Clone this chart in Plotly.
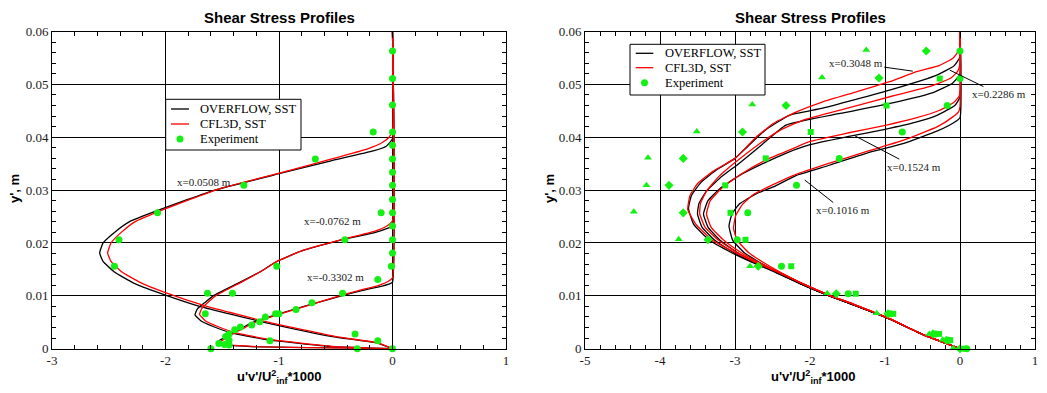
import plotly.graph_objects as go

# ---------------- Left panel data (u'v'/U^2*1000 vs y', m) ----------------
L_ovf_m0p3302_x = [0, -1.25, -1.52, -1.55, -1.49, -1.41, -1.32, -1.23, -1.00, -0.78, -0.45, -0.27, -0.12, -0.03, 0, 0]
L_ovf_m0p3302_y = [0, 0.0004, 0.0008, 0.0012, 0.0020, 0.0030, 0.0040, 0.0050, 0.0066, 0.0080, 0.0100, 0.0110, 0.0117, 0.0122, 0.0126, 0.06]
L_cfl_m0p3302_x = [0, -1.2, -1.48, -1.52, -1.47, -1.39, -1.30, -1.21, -0.99, -0.77, -0.44, -0.26, -0.12, -0.04, 0, 0]
L_cfl_m0p3302_y = [0, 0.0004, 0.0008, 0.0012, 0.0020, 0.0030, 0.0040, 0.0050, 0.0066, 0.0080, 0.0102, 0.0112, 0.0120, 0.0127, 0.0134, 0.06]

L_ovf_m0p0762_x = [0, -0.53, -1.11, -1.42, -1.58, -1.69, -1.74, -1.72, -1.65, -1.58, -1.35, -1.17, -1.02, -0.80, -0.45, -0.15, -0.04, 0, 0]
L_ovf_m0p0762_y = [0, 0.0004, 0.0017, 0.0030, 0.0042, 0.0053, 0.0064, 0.0075, 0.0088, 0.0100, 0.0125, 0.0145, 0.0165, 0.0185, 0.0206, 0.0220, 0.0228, 0.0232, 0.06]
L_cfl_m0p0762_x = [0, -0.5, -1.07, -1.38, -1.54, -1.65, -1.70, -1.68, -1.62, -1.55, -1.33, -1.16, -1.01, -0.79, -0.44, -0.16, -0.05, 0, 0]
L_cfl_m0p0762_y = [0, 0.0004, 0.0017, 0.0030, 0.0042, 0.0053, 0.0065, 0.0076, 0.0089, 0.0101, 0.0126, 0.0146, 0.0166, 0.0186, 0.0207, 0.0222, 0.0232, 0.0242, 0.06]

L_ovf_0p0508_x = [0, -0.14, -0.53, -1.11, -1.70, -2.05, -2.28, -2.45, -2.55, -2.58, -2.55, -2.45, -2.32, -2.05, -1.81, -1.55, -1.0, -0.55, -0.17, -0.055, 0, 0]
L_ovf_0p0508_y = [0, 0.0011, 0.0023, 0.0049, 0.0080, 0.0105, 0.0124, 0.0145, 0.0165, 0.0181, 0.0200, 0.0220, 0.0240, 0.0263, 0.0282, 0.0301, 0.0331, 0.0355, 0.0374, 0.0383, 0.0397, 0.06]
L_cfl_0p0508_x = [0, -0.13, -0.5, -1.07, -1.65, -2.0, -2.22, -2.39, -2.48, -2.51, -2.48, -2.39, -2.27, -2.02, -1.79, -1.53, -0.98, -0.55, -0.22, -0.09, -0.03, 0, 0]
L_cfl_0p0508_y = [0, 0.0011, 0.0023, 0.0049, 0.0081, 0.0106, 0.0125, 0.0146, 0.0165, 0.0181, 0.0200, 0.0220, 0.0240, 0.0263, 0.0282, 0.0302, 0.0333, 0.0358, 0.0378, 0.0390, 0.0400, 0.0413, 0.06]

L_exp_x = [0, 0, 0, -0.17, 0, 0, -0.68, 0, 0, -1.31, 0, 0, -2.07, -0.10, 0, 0, -2.41, -0.42, 0, 0,
           -2.45, -1.02, -0.01, -0.13, -1.63, -1.41, -0.44, -0.71, -0.85, -1.65, -1.03, -1.00, -1.12,
           -1.17, -1.24, -1.34, -1.39, -0.33, -1.44, -1.47, -1.08, -0.13, -1.44, -1.53, -1.48, -1.44,
           -1.60, -0.31, 0]
L_exp_y = [0.0563, 0.0511, 0.0461, 0.0410, 0.0410, 0.0385, 0.0359, 0.0359, 0.0334, 0.0309, 0.0309, 0.0282,
           0.0257, 0.0257, 0.0257, 0.0232, 0.0206, 0.0206, 0.0206, 0.0181, 0.0156, 0.0156, 0.0156, 0.0131,
           0.0105, 0.0105, 0.0105, 0.0087, 0.0074, 0.0066, 0.0066, 0.0066, 0.0060, 0.0051, 0.0045, 0.0041,
           0.0036, 0.0028, 0.0028, 0.0023, 0.0015, 0.0015, 0.0016, 0.0010, 0.0008, 0.0007, 0.0, 0.0, 0.0]

# ---------------- Right panel data ----------------
R_cfl_0p1016_x = [0, -0.5, -0.94, -1.4, -1.74, -2.1, -2.4, -2.62, -2.82, -2.97, -3.02, -2.99, -2.9, -2.75, -2.5, -2.2, -1.74, -1.2, -0.76, -0.3, -0.1, -0.02, 0, 0]
R_cfl_0p1016_y = [0, 0.0027, 0.0057, 0.0083, 0.0101, 0.0123, 0.0145, 0.0163, 0.0182, 0.0205, 0.0228, 0.0252, 0.0273, 0.0292, 0.0310, 0.0329, 0.0351, 0.0375, 0.0394, 0.0420, 0.0438, 0.0448, 0.0458, 0.06]
R_ovf_0p1016_x = [0, -0.5, -0.95, -1.42, -1.76, -2.13, -2.44, -2.67, -2.88, -3.03, -3.08, -3.04, -2.94, -2.72, -2.49, -2.18, -1.74, -1.2, -0.76, -0.3, -0.08, 0, 0]
R_ovf_0p1016_y = [0, 0.0027, 0.0057, 0.0083, 0.0101, 0.0123, 0.0145, 0.0163, 0.0182, 0.0205, 0.0232, 0.0255, 0.0274, 0.0293, 0.0306, 0.0328, 0.0347, 0.0372, 0.0388, 0.0412, 0.0428, 0.0437, 0.06]

R_cfl_0p1524_x = [0, -0.5, -0.94, -1.4, -1.74, -2.1, -2.42, -2.68, -2.92, -3.15, -3.32, -3.38, -3.33, -3.16, -2.9, -2.57, -2.27, -2.0, -1.5, -0.98, -0.6, -0.27, -0.08, -0.01, 0, 0]
R_cfl_0p1524_y = [0, 0.0027, 0.0057, 0.0083, 0.0101, 0.0123, 0.0145, 0.0163, 0.0182, 0.0205, 0.0230, 0.0255, 0.0280, 0.0306, 0.0332, 0.0358, 0.0376, 0.0392, 0.0408, 0.0423, 0.0436, 0.0451, 0.0466, 0.0478, 0.0490, 0.06]
R_ovf_0p1524_x = [0, -0.5, -0.95, -1.42, -1.76, -2.13, -2.45, -2.72, -2.97, -3.2, -3.36, -3.42, -3.36, -3.2, -2.95, -2.6, -2.3, -2.0, -1.5, -1.0, -0.6, -0.3, -0.07, 0, 0]
R_ovf_0p1524_y = [0, 0.0027, 0.0057, 0.0083, 0.0101, 0.0123, 0.0145, 0.0163, 0.0182, 0.0205, 0.0230, 0.0255, 0.0280, 0.0303, 0.0327, 0.0352, 0.0371, 0.0386, 0.0401, 0.0415, 0.0428, 0.0442, 0.0460, 0.0476, 0.06]

R_cfl_0p2286_x = [0, -0.5, -0.94, -1.4, -1.74, -2.1, -2.42, -2.7, -2.97, -3.22, -3.40, -3.47, -3.46, -3.38, -3.22, -3.0, -2.7, -2.4, -2.1, -1.5, -0.9, -0.4, -0.12, -0.03, 0, 0]
R_cfl_0p2286_y = [0, 0.0027, 0.0057, 0.0083, 0.0101, 0.0123, 0.0145, 0.0163, 0.0182, 0.0205, 0.0230, 0.0255, 0.0275, 0.0298, 0.0325, 0.0352, 0.0385, 0.0413, 0.0432, 0.0455, 0.0478, 0.0496, 0.0512, 0.0525, 0.0540, 0.06]
R_ovf_0p2286_x = [0, -0.5, -0.95, -1.42, -1.76, -2.13, -2.46, -2.75, -3.02, -3.27, -3.44, -3.50, -3.48, -3.38, -3.2, -2.95, -2.65, -2.32, -1.6, -0.9, -0.35, -0.1, 0, 0]
R_ovf_0p2286_y = [0, 0.0027, 0.0057, 0.0083, 0.0101, 0.0123, 0.0145, 0.0163, 0.0182, 0.0205, 0.0230, 0.0255, 0.0275, 0.0298, 0.0323, 0.0350, 0.0385, 0.0423, 0.0445, 0.0465, 0.0485, 0.0502, 0.0520, 0.06]

R_cfl_0p3048_x = [0, -0.5, -0.94, -1.4, -1.74, -2.1, -2.43, -2.72, -3.0, -3.3, -3.52, -3.63, -3.6, -3.5, -3.3, -3.0, -2.72, -2.49, -2.18, -1.83, -1.38, -0.94, -0.58, -0.27, -0.09, 0, 0]
R_cfl_0p3048_y = [0, 0.0027, 0.0057, 0.0083, 0.0101, 0.0123, 0.0145, 0.0163, 0.0182, 0.0205, 0.0235, 0.0263, 0.0290, 0.0312, 0.0335, 0.0360, 0.0400, 0.0426, 0.0448, 0.0467, 0.0486, 0.0505, 0.0524, 0.0536, 0.0550, 0.0568, 0.06]
R_ovf_0p3048_x = [0, -0.5, -0.95, -1.42, -1.76, -2.13, -2.47, -2.77, -3.05, -3.34, -3.55, -3.62, -3.58, -3.45, -3.25, -3.0, -2.6, -2.27, -1.83, -0.94, -0.3, -0.08, 0, 0]
R_ovf_0p3048_y = [0, 0.0027, 0.0057, 0.0083, 0.0101, 0.0123, 0.0145, 0.0163, 0.0182, 0.0205, 0.0235, 0.0265, 0.0290, 0.0315, 0.0338, 0.0360, 0.0413, 0.0442, 0.0455, 0.0489, 0.0518, 0.0535, 0.0552, 0.06]

R_exp_circ_x = [0, 0, -0.17, -0.77, -1.61, -2.18, -2.83, -2.97, -2.38, -1.49, -0.93, -0.33, -0.15, 0.09]
R_exp_circ_y = [0.0563, 0.0511, 0.0460, 0.0410, 0.0360, 0.0309, 0.0257, 0.0206, 0.0156, 0.0104, 0.0066, 0.0028, 0.0016, 0.0]
R_exp_sq_x = [-0.27, -0.98, -1.99, -2.59, -3.13, -3.06, -2.86, -2.25, -1.39, -0.89, -0.28, -0.13, 0.06]
R_exp_sq_y = [0.0511, 0.0460, 0.0410, 0.0360, 0.0309, 0.0257, 0.0206, 0.0156, 0.0104, 0.0066, 0.0028, 0.0016, 0.0]
R_exp_dia_x = [-0.45, -1.08, -2.32, -2.90, -3.69, -3.88, -3.69, -3.36, -2.69, -1.65, -0.96, -0.36, -0.18, 0.0]
R_exp_dia_y = [0.0563, 0.0512, 0.0460, 0.0410, 0.0360, 0.0309, 0.0257, 0.0206, 0.0156, 0.0104, 0.0066, 0.0028, 0.0016, 0.0]
R_exp_tri_x = [-1.25, -1.84, -2.77, -3.51, -4.16, -4.18, -4.35, -3.75, -2.80, -1.77, -1.11, -0.41, -0.23, -0.09]
R_exp_tri_y = [0.0565, 0.0513, 0.0462, 0.0411, 0.0361, 0.0309, 0.0259, 0.0207, 0.0156, 0.0105, 0.0067, 0.0028, 0.0017, 0.0001]

L_xticks = [-3, -2, -1, 0, 1]
L_xticktext = ["-3", "-2", "-1", "0", "1"]
R_xticks = [-5, -4, -3, -2, -1, 0, 1]
R_xticktext = ["-5", "-4", "-3", "-2", "-1", "0", "1"]
yticks = [0, 0.01, 0.02, 0.03, 0.04, 0.05, 0.06]
yticktext = ["0", "0.01", "0.02", "0.03", "0.04", "0.05", "0.06"]

legend_labels = ["OVERFLOW, SST", "CFL3D, SST", "Experiment"]

BLACK = "black"
RED = "#ff0000"
GREEN = "#14f014"
LW = 1.3
SERIF = "Liberation Serif, Times New Roman, serif"
SANS = "Liberation Sans, Arial, sans-serif"

fig = go.Figure()

def line(x, y, color, xa, ya):
    fig.add_trace(go.Scatter(x=x, y=y, mode="lines", showlegend=False,
                             line=dict(color=color, width=LW, shape="spline", smoothing=0.4),
                             xaxis=xa, yaxis=ya, hoverinfo="skip"))

# left panel: black first, red on top
line(L_ovf_m0p3302_x, L_ovf_m0p3302_y, BLACK, "x", "y")
line(L_ovf_m0p0762_x, L_ovf_m0p0762_y, BLACK, "x", "y")
line(L_ovf_0p0508_x, L_ovf_0p0508_y, BLACK, "x", "y")
line(L_cfl_m0p3302_x, L_cfl_m0p3302_y, RED, "x", "y")
line(L_cfl_m0p0762_x, L_cfl_m0p0762_y, RED, "x", "y")
line(L_cfl_0p0508_x, L_cfl_0p0508_y, RED, "x", "y")
fig.add_trace(go.Scatter(x=L_exp_x, y=L_exp_y, mode="markers", showlegend=False,
                         marker=dict(color=GREEN, size=7, symbol="circle"), cliponaxis=False,
                         xaxis="x", yaxis="y"))

# right panel
line(R_ovf_0p1016_x, R_ovf_0p1016_y, BLACK, "x2", "y2")
line(R_ovf_0p1524_x, R_ovf_0p1524_y, BLACK, "x2", "y2")
line(R_ovf_0p2286_x, R_ovf_0p2286_y, BLACK, "x2", "y2")
line(R_ovf_0p3048_x, R_ovf_0p3048_y, BLACK, "x2", "y2")
line(R_cfl_0p1016_x, R_cfl_0p1016_y, RED, "x2", "y2")
line(R_cfl_0p1524_x, R_cfl_0p1524_y, RED, "x2", "y2")
line(R_cfl_0p2286_x, R_cfl_0p2286_y, RED, "x2", "y2")
line(R_cfl_0p3048_x, R_cfl_0p3048_y, RED, "x2", "y2")
for xs, ys, sym, sz in [(R_exp_circ_x, R_exp_circ_y, "circle", 7),
                        (R_exp_sq_x, R_exp_sq_y, "square", 6),
                        (R_exp_dia_x, R_exp_dia_y, "diamond", 7),
                        (R_exp_tri_x, R_exp_tri_y, "triangle-up", 7)]:
    fig.add_trace(go.Scatter(x=xs, y=ys, mode="markers", showlegend=False,
                             marker=dict(color=GREEN, size=sz, symbol=sym), cliponaxis=False,
                             xaxis="x2", yaxis="y2"))

# The page body adds an 8px margin, so the figure is drawn 8px right/down.
OFF = 8
W, H = 1047 - OFF, 393 - OFF


def PX(X):
    return (X - OFF) / W


def PY(Y):
    return 1 - (Y - OFF) / H


ytop = PY(31.5)
ybot = PY(348.7)
tickfont = dict(family=SERIF, size=13, color="#1a1a1a")


def axis(domain, rng, tv, tt, mdt, anchor):
    return dict(domain=domain, range=rng, tickmode="array", tickvals=tv, ticktext=tt,
                showline=True, linecolor="black", linewidth=1, mirror="ticks",
                ticks="inside", ticklen=6, tickcolor="black", tickwidth=1,
                showgrid=True, gridcolor="black", gridwidth=1, zeroline=False,
                tickfont=tickfont, automargin=False, anchor=anchor,
                minor=dict(ticks="inside", ticklen=4, tickcolor="black", dtick=mdt, tick0=0, showgrid=False))


fig.update_layout(
    width=W, height=H, margin=dict(l=0, r=0, t=0, b=0),
    paper_bgcolor="white", plot_bgcolor="white",
    font=dict(family=SERIF, color="black"),
    xaxis=axis([PX(52), PX(506)], [-3, 1], L_xticks, L_xticktext, 0.2, "y"),
    yaxis=axis([ybot, ytop], [0, 0.06], yticks, yticktext, 0.002, "x"),
    xaxis2=axis([PX(585), PX(1035)], [-5, 1], R_xticks, R_xticktext, 0.2, "y2"),
    yaxis2=axis([ybot, ytop], [0, 0.06], yticks, yticktext, 0.002, "x2"),
    showlegend=False,
)

ann = []
shapes = []
title_font = dict(family=SANS, size=15, color="black")
for cx in (279, 810.5):
    ann.append(dict(text="<b>Shear Stress Profiles</b>", x=PX(cx), y=PY(17), xref="paper", yref="paper",
                    showarrow=False, font=title_font, xanchor="center", yanchor="middle"))
lab_font = dict(family=SANS, size=13, color="black")
for cx in (279, 813):
    ann.append(dict(text="<b>u'v'/U<sup>2</sup><sub>inf</sub>*1000</b>", x=PX(cx), y=PY(377),
                    xref="paper", yref="paper", showarrow=False, font=lab_font,
                    xanchor="center", yanchor="middle"))
for cx in (14, 549):
    ann.append(dict(text="<b>y', m</b>", x=PX(cx), y=PY(189), xref="paper", yref="paper",
                    showarrow=False, font=lab_font, textangle=-90, xanchor="center", yanchor="middle"))

sfont = dict(family=SERIF, size=11, color="#1a1a1a")
ann.append(dict(text="x=0.0508 m", x=-1.66, y=0.0316, xref="x", yref="y", showarrow=False, font=sfont))
ann.append(dict(text="x=-0.0762 m", x=-0.53, y=0.0242, xref="x", yref="y", showarrow=False, font=sfont))
ann.append(dict(text="x=-0.3302 m", x=-0.50, y=0.0135, xref="x", yref="y", showarrow=False, font=sfont))
for txt, px, py, ax, ay in [("x=0.3048 m", -0.63, 0.0525, -57, -8),
                            ("x=0.2286 m", -0.137, 0.0527, 49, 24),
                            ("x=0.1524 m", -1.406, 0.0403, 59, 31),
                            ("x=0.1016 m", -2.07, 0.0319, 38, 30)]:
    ann.append(dict(text=txt, x=px, y=py, xref="x2", yref="y2", showarrow=True, arrowhead=0,
                    arrowwidth=1, arrowcolor="black", ax=ax, ay=ay, font=sfont, standoff=0))

# legend boxes (drawn in paper space)
lfont = dict(family=SERIF, size=12.5, color="black")
for (bx0, by0, bx1, by1, rows, sx0, sx1, tx) in [
        (165.7, 99.3, 301, 150, (109, 124, 139), 171, 189, 198),
        (630, 44.3, 765, 95, (53.3, 67.7, 82.7), 635.7, 653.3, 662.7)]:
    shapes.append(dict(type="rect", xref="paper", yref="paper", x0=PX(bx0), y0=PY(by1), x1=PX(bx1), y1=PY(by0),
                       line=dict(color="black", width=1), fillcolor="white", layer="above"))
    for i, (col, lab) in enumerate(zip((BLACK, RED, None), legend_labels)):
        ry = rows[i]
        if col is not None:
            shapes.append(dict(type="line", xref="paper", yref="paper", x0=PX(sx0), y0=PY(ry),
                               x1=PX(sx1), y1=PY(ry), line=dict(color=col, width=LW), layer="above"))
        else:
            cx = (sx0 + sx1) / 2
            shapes.append(dict(type="circle", xref="paper", yref="paper",
                               x0=PX(cx - 3.5), y0=PY(ry + 3.5), x1=PX(cx + 3.5), y1=PY(ry - 3.5),
                               line=dict(color=GREEN, width=0), fillcolor=GREEN, layer="above"))
        ann.append(dict(text=lab, x=PX(tx), y=PY(ry), xref="paper", yref="paper", showarrow=False,
                        font=lfont, xanchor="left", yanchor="middle"))

fig.update_layout(annotations=ann, shapes=shapes)
fig.write_html("out.html")
